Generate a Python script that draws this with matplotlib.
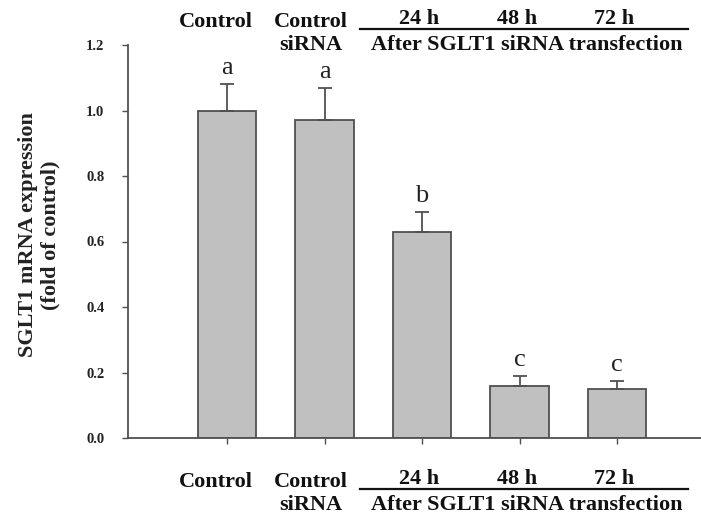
import matplotlib
matplotlib.use("Agg")
import matplotlib.pyplot as plt
from matplotlib.transforms import blended_transform_factory
import numpy as np

groups = ["Control", "Control siRNA", "24 h", "48 h", "72 h"]
values = [1.00, 0.97, 0.63, 0.16, 0.15]
errors = [0.08, 0.10, 0.06, 0.03, 0.025]
letters = ["a", "a", "b", "c", "c"]
yticks = [0.0, 0.2, 0.4, 0.6, 0.8, 1.0, 1.2]

plt.rcParams['font.family'] = ['Liberation Serif', 'DejaVu Serif']

fig = plt.figure(figsize=(7.01, 5.17), dpi=100)
ax = fig.add_axes([128/701, 1-438/517, 1-128/701, (438-45)/517])

x = np.arange(len(groups))
ax.bar(x, values, width=0.6, color='#c0c0c0', edgecolor='#505050', linewidth=1.3, zorder=2)
ax.errorbar(x, values, yerr=[np.zeros(len(errors)), errors], fmt='none',
            ecolor='#505050', elinewidth=1.3, capsize=5, capthick=1.3, zorder=3)

for xi, v, e, l in zip(x, values, errors, letters):
    ax.text(xi, v + e + 0.03, l, ha='center', va='baseline', fontsize=19, color='#222222')

ax.set_xlim(-1.015, 4.86)
ax.set_ylim(0, 1.2)
ax.set_yticks(yticks)
ax.set_yticklabels([f"{t:.1f}" for t in yticks], fontsize=10.5, fontweight='bold', color='#222222')
ax.set_xticks(x)
ax.set_xticklabels([])
for s in ['top', 'right']:
    ax.spines[s].set_visible(False)
for s in ['left', 'bottom']:
    ax.spines[s].set_color('#505050')
    ax.spines[s].set_linewidth(1.3)
ax.tick_params(axis='both', direction='out', length=4, color='#505050', width=1)
ax.tick_params(axis='y', pad=13)

fig.text(39/701, 1-235/517, "SGLT1 mRNA expression\n(fold of control)", rotation=90,
         ha='center', va='center', fontsize=16, fontweight='bold', linespacing=1.15,
         multialignment='center', color='#222222')

trans = blended_transform_factory(ax.transData, fig.transFigure)

def group_labels(b1, b1h, b2, yline):
    fs = 16
    kw = dict(transform=trans, va='baseline', fontsize=fs, fontweight='bold', clip_on=False, color='#111111')
    ax.text(-0.11, b1, "Control", ha='center', **kw)
    ax.text(0.86, b1, "Control", ha='center', **kw)
    ax.text(0.86, b2, "siRNA", ha='center', **kw)
    for xi, lab in zip([2, 3, 4], ["24 h", "48 h", "72 h"]):
        ax.text(xi - 0.03, b1h, lab, ha='center', **kw)
    ax.text(3.07, b2, "After SGLT1 siRNA transfection", ha='center', **kw)
    ax.plot([1.36, 4.73], [yline, yline], transform=trans, color='#111111', lw=1.6, clip_on=False)

group_labels(1-27/517, 1-24/517, 1-50/517, 1-29/517)
group_labels(1-487/517, 1-484/517, 1-510/517, 1-489/517)

fig.savefig("out.png", dpi=100)
